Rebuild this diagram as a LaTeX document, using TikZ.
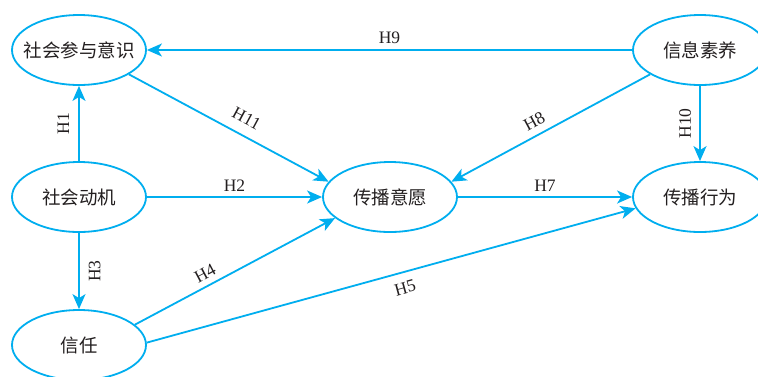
\documentclass[tikz,border=0pt]{standalone}
\usepackage{fontspec}
\setmainfont{Liberation Serif}
\newfontfamily\cjk{Noto Sans CJK SC}
\usetikzlibrary{shapes.geometric,arrows.meta}
\definecolor{mycyan}{RGB}{0,174,239}
\definecolor{mytext}{RGB}{35,31,32}
\newcommand{\ztxt}[1]{\makebox[0pt]{#1}}
\tikzset{
  var/.style={ellipse, draw=mycyan, line width=1.8pt, minimum width=134pt, minimum height=70pt, inner sep=0pt, text=mytext, font=\cjk\fontsize{18.5}{18.5}\selectfont},
  arr/.style={draw=mycyan, line width=1.8pt, -{Stealth[length=15pt,width=13pt,inset=4pt]}},
  lab/.style={text=mytext, font=\fontsize{17.5}{17.5}\selectfont, inner sep=5pt}
}
\begin{document}
\begin{tikzpicture}[x=1pt,y=-1pt]
\useasboundingbox[fill=white] (0,0) rectangle (758,376);
\node[var] (A) at (79,50) {\ztxt{社会参与意识}};
\node[var] (B) at (700,50) {\ztxt{信息素养}};
\node[var] (C) at (79,197) {\ztxt{社会动机}};
\node[var] (D) at (390,197) {\ztxt{传播意愿}};
\node[var] (E) at (700,197) {\ztxt{传播行为}};
\node[var] (F) at (79,345) {\ztxt{信任}};
\draw[arr] (B) -- node[lab, above] {H9} (A);
\draw[arr] (C) -- node[lab, rotate=90, anchor=south, inner sep=9pt] {H1} (A);
\draw[arr] (C) -- node[lab, rotate=90, anchor=north, inner sep=9pt] {H3} (F);
\draw[arr] (B) -- node[lab, rotate=90, anchor=south, inner sep=8pt] {H10} (E);
\draw[arr] (C) -- node[lab, above] {H2} (D);
\draw[arr] (D) -- node[lab, above] {H7} (E);
\draw[arr] (A.-26) -- node[lab, pos=0.55, sloped, above, inner sep=10pt] {H11} (D.166);
\draw[arr] (B.-154) -- node[lab, pos=0.55, sloped, above, inner sep=7pt] {H8} (D.14);
\draw[arr] (F.20) -- node[lab, pos=0.38, sloped, above, inner sep=6pt] {H4} (D.-159);
\draw[arr] (F.2) -- node[lab, pos=0.52, sloped, below, inner sep=9pt] {H5} (E.190);
\end{tikzpicture}
\end{document}
